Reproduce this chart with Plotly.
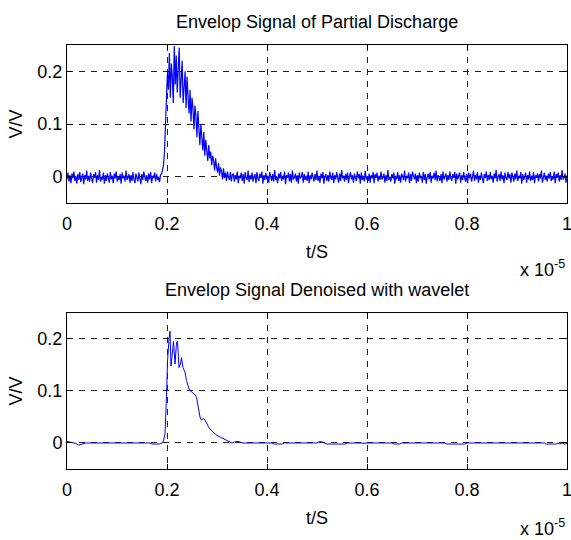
import numpy as np
import plotly.graph_objects as go

# ---- data (time in units of 1e-5 s, amplitude in units of 1e-3 V) ----
top_pre = [-5, 8, -9, 3, -12, 6, -3, 10, -8, 2, -13, 5, -6, 9, -10, 0, 6, -14, 3, -5,
           12, -8, 2, -9, 8, -3, -12, 5, -2, 9, -11, 3, -6, 13, -9, 0, -5, 8, -13, 3,
           -8, 6, -2, -11, 9, -5, 2, -12, 6, -3, 10, -9, 0, -6, 5, -13, 8, -3, 2, -9,
           12, -6, -2, 5, -11, 3, -8, 9, -5, -12, 6, 0, -9, 8, -3, -14, 5, -6, 10, -2,
           -8, 3, -11, 6, -5, 9, -12, 2, -3, 8, -9, 5, -6, 0, -10]
top_pulse = [3, 6, 12, 22, 45, 95, 150, 195, 165, 235, 150, 215, 190, 140, 248, 175,
             230, 160, 205, 245, 150, 195, 220, 140, 180, 200, 130, 190, 150, 120,
             165, 105, 150, 130, 90, 135, 115, 75, 125, 95, 60, 100, 80, 50, 85, 40,
             70, 55, 30, 60, 35, 48, 22, 40, 30, 12, 35, 18, 8, 26, 2, 18, 10, -5,
             16, -2, 8, -8, 10, 0, -6, 9, -9, 4]
top_post = [6, -9, 3, -5, 10, -12, 2, -3, 8, -8, 5, -13, 9, -2, -6, 12, -10, 3, -5, 8,
            -9, 0, 5, -12, 9, -3, -8, 6, -2, 10, -13, 3, -6, 8, -5, 2, -11, 9, -3, -8,
            5, -9, 13, -6, 0, -12, 6, -3, 9, -8, 2, -5, 10, -14, 3, -2, 8, -9, 5, -11,
            12, -5, -2, 6, -9, 3, -13, 8, -3, 0, 9, -11, 5, -6, 2, -8, 10, -12, 3, -5,
            8, -2, -9, 5, -6, 12, -8, 2, -11, 6, -3, 9, -13, 0, 5, -8, 3, -9, 10, -2,
            -6, 8, -12, 3, -5, 9, -2, -11, 6, -8, 13, -3, 2, -9, 5, -6, 8, -12, 0, 9,
            -5, 3, -11, 6, -2, -8, 10, -3, 5, -13, 8, -6, 2, -9, 12, -5, 0, -8, 6, -11,
            3, -3, 9, -12, 5, -2, 8, -9, 2, -6, 10, -5, -2, 6, -11, 3, -8, 13, -6, 0,
            -9, 5, -3, 8, -13, 2, -5, 9, -8, 3, -11, 6, 0, -6, 12, -9, 2, -3, 8, -12,
            5, -8, 10, -2, -5, 6, -12, 3, -9, 8, -3, 2, -11, 9, -6, 5, -13, 0, 6, -5,
            9, -11, 2, -3, 8, -6, 12, -9, 3, -2, -8, 5, -12, 10, -5, 0, 6, -9, 3, -6,
            10, -3, -8, 5, -2, 9, -13, 6, -5, 2, 8, -11, 3, -6, 9, -2, -9, 5, -12, 8,
            -3, 6, -9, 0, 12, -8, 3, -5, 9, -11, 2, -6, 8, -3, -12, 5, -2, 10, -8, 3,
            -6, 9, -5, 2, -11, 6, -3, 13, -9, 0, 5, -8, 10, -5, 3, -12, 8, -2, -6, 9,
            -3, 5, -11, 8, -2, -9, 6, -5, 12, -8, 2, -3, 9, -13, 5, -6, 0, 8, -11, 3,
            -5, 10, -8, 2, -6, 9, -12, 3, -2, 6, -9, 5, -3, 12, -11, 0, 8, -6, 2, -9,
            6, -3, 9, -8, 0, -5, 10, -12, 5, -2, 8, -9, 3, -6, 13, -5, -2, 6, -11, 3]

bot_t = [0, 0.01, 0.018, 0.023, 0.028, 0.033, 0.038, 0.165, 0.170, 0.185, 0.190,
         0.193, 0.196, 0.199, 0.201, 0.204, 0.206, 0.208, 0.211, 0.213, 0.216,
         0.219, 0.221, 0.224, 0.227, 0.229, 0.232, 0.236, 0.239, 0.244, 0.249,
         0.255, 0.259, 0.263, 0.266, 0.269, 0.273, 0.276, 0.279, 0.283, 0.288,
         0.295, 0.303, 0.313, 0.323, 0.330, 0.335, 0.342, 0.348, 0.352, 0.41,
         0.415, 0.43, 0.435, 0.5, 0.505, 0.51, 0.515, 0.52, 0.555, 0.56, 0.59,
         0.594, 0.598, 0.65, 0.655, 0.665, 0.67, 0.755, 0.76, 0.795, 0.80, 0.843,
         0.846, 0.85, 0.955, 0.958, 0.978, 0.982, 0.986, 0.99, 0.995, 1.0]
bot_v = [3, 1, -1, -4, -3, -1, 0, 0, -2, -2, 0,
         4, 18, 90, 156, 200, 215, 148, 170, 195, 152,
         193, 196, 145, 152, 164, 145, 136, 120, 104, 98,
         94, 88, 70, 50, 44, 47, 44, 37, 31, 25,
         18, 13, 8, 4, 0, 2, 3, 1, 0, 0,
         -2, -2, 0, 0, 3, 2, 0, -2, -2, 0, 0,
         -1, 0, 0, -2, -2, 0, 0, -2, -2, 0, 0,
         -1, 0, 0, -2, -2, 0, -2, 0, -2, -1]

x_ticks = [0, 0.2, 0.4, 0.6, 0.8, 1]
x_ticklabels = ["0", "0.2", "0.4", "0.6", "0.8", "1"]
y_ticks = [0, 0.1, 0.2]
y_ticklabels = ["0", "0.1", "0.2"]

titles = ["Envelop Signal of Partial Discharge", "Envelop Signal Denoised with wavelet"]

top_v = top_pre + top_pulse + top_post
top_t = np.linspace(0, 1, len(top_v))

FONT = "Liberation Sans, Arial, sans-serif"
FS = 18
BLUE = "#0000FF"

fig = go.Figure()
fig.add_trace(go.Scatter(x=top_t, y=np.array(top_v) / 1000.0, mode="lines",
                         line=dict(color=BLUE, width=1.2), xaxis="x", yaxis="y",
                         showlegend=False))
fig.add_trace(go.Scatter(x=bot_t, y=np.array(bot_v) / 1000.0, mode="lines",
                         line=dict(color=BLUE, width=1), xaxis="x2", yaxis="y2",
                         showlegend=False))

tfont = dict(family=FONT, size=FS, color="black")
axis_common = dict(showline=True, linecolor="black", linewidth=1, mirror="ticks",
                   ticks="inside", ticklen=5, tickcolor="black",
                   showgrid=True, gridcolor="#222222", gridwidth=1, griddash="6px,6px",
                   zeroline=False, tickfont=tfont, automargin=False,
                   ticklabeloverflow="allow")

xt = dict(axis_common, range=[0, 1], tickvals=x_ticks, ticktext=x_ticklabels,
          ticklabelstandoff=4,
          title=dict(text="t/S", font=tfont, standoff=12))
yt = dict(axis_common, range=[-0.05, 0.25], tickvals=y_ticks, ticktext=y_ticklabels,
          title=dict(text="V/V", font=tfont, standoff=10))

fig.update_layout(
    width=571, height=540,
    margin=dict(l=67, r=4, t=45, b=71),
    paper_bgcolor="white", plot_bgcolor="white",
    font=tfont,
    hovermode=False,
    xaxis=dict(xt, domain=[0, 1], anchor="y"),
    yaxis=dict(yt, domain=[0.627, 1], anchor="x"),
    xaxis2=dict(xt, domain=[0, 1], anchor="y2"),
    yaxis2=dict(yt, domain=[0, 0.368], anchor="x2"),
)

annos = [
    dict(text=titles[0], x=0.5, y=1, yshift=23),
    dict(text=titles[1], x=0.5, y=0.368, yshift=23),
    dict(text="x 10<sup>-5</sup>", x=1.0, xanchor="right", y=0.481, yshift=-3),
    dict(text="x 10<sup>-5</sup>", x=1.0, xanchor="right", y=-0.132, yshift=-3),
]
for a in annos:
    a.update(xref="paper", yref="paper", showarrow=False, font=tfont)
    a.setdefault("xanchor", "center")
    a.setdefault("yanchor", "middle")
    fig.add_annotation(**a)

fig.write_html("out.html", config={"displayModeBar": False},
               post_script="document.body.style.margin='0';document.body.style.overflow='hidden';")
